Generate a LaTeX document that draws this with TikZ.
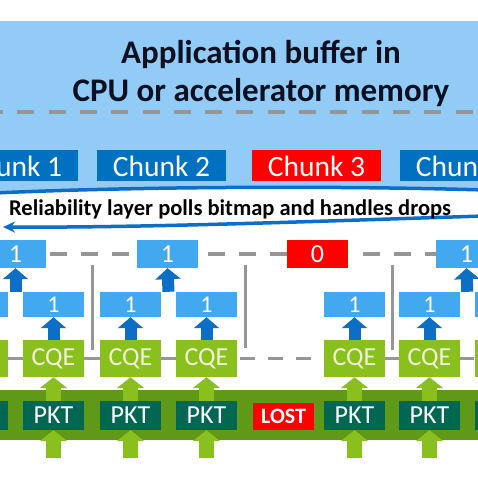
\documentclass[tikz,border=0pt]{standalone}
\usepackage{fontspec}
\setmainfont{Carlito}
\usetikzlibrary{arrows.meta,calc}

\definecolor{skyback}{RGB}{146,204,246}
\definecolor{chunkblue}{RGB}{0,112,192}
\definecolor{bitblue}{RGB}{66,168,240}
\definecolor{arrowblue}{RGB}{12,110,196}
\definecolor{lostred}{RGB}{255,0,0}
\definecolor{cqegreen}{RGB}{138,192,30}
\definecolor{cqetext}{RGB}{240,246,214}
\definecolor{bandgreen}{RGB}{96,152,24}
\definecolor{pktgreen}{RGB}{0,104,82}
\definecolor{rulegray}{RGB}{150,150,150}
\definecolor{titleink}{RGB}{8,16,34}

\tikzset{
  box/.style={draw=none,inner sep=0pt,minimum width=61pt,text=white},
  upblue/.style={arrowblue,line width=12pt,-{Triangle[width=25pt,length=11pt]}},
  upgreen/.style={cqegreen,line width=15pt,-{Triangle[width=27pt,length=11pt]}},
  rule/.style={rulegray,line width=3pt},
  sep/.style={rulegray,line width=4pt,dash pattern=on 17pt off 14.3pt},
}

\begin{document}
\begin{tikzpicture}[x=1pt,y=-1pt]

      \useasboundingbox (0,0) rectangle (478,478);
      \clip (0,0) rectangle (478,478);

      % application buffer area
      \fill[skyback] (0,21) rectangle (478,196);
      \fill[white] (-5,193) .. controls (150,186) and (350,186) .. (490,191)
        -- (490,480) -- (-5,480) -- cycle;

      \node[font=\fontsize{33}{38}\selectfont\bfseries,text=titleink,align=center]
        (title) at (261,73) {Application buffer in\\CPU or accelerator memory};
      \draw[sep,dash phase=14pt] (0,112) -- (478,112);

      \begin{scope}[every node/.style={box,minimum width=129pt,minimum height=31pt,
          font=\fontsize{29.5}{31}\selectfont}]
        \node[fill=chunkblue] (chunk1) at (13.5,166)  {Chunk 1};
        \node[fill=chunkblue] (chunk2) at (161.5,166) {Chunk 2};
        \node[fill=lostred]   (chunk3) at (316.5,166) {Chunk 3};
        \node[fill=chunkblue] (chunk4) at (464.5,166) {Chunk 4};
      \end{scope}

      % polling loop
      \draw[arrowblue,line width=3.5pt,-{Stealth[length=12pt,width=11pt]}]
        (-5,193) .. controls (150,186) and (350,186) .. (485,190)
        .. controls (500,192) and (500,214) .. (485,216)
        .. controls (350,220) and (150,228) .. (3,227);
      \node[font=\fontsize{22.5}{24}\selectfont\bfseries] (poll) at (230,209)
        {Reliability layer polls bitmap and handles drops};

      % completion band
      \fill[bandgreen] (0,390) rectangle (478,440);

      \begin{scope}[every node/.style={box,minimum height=28pt,font=\fontsize{26}{28}\selectfont}]
        \node[fill=bitblue] (map0) at (15.5,254)  {1};
        \node[fill=bitblue] (map1) at (167.5,254) {1};
        \node[fill=lostred] (map2) at (317.5,254) {0};
        \node[fill=bitblue] (map3) at (466.5,254) {1};
      \end{scope}

      \foreach \i/\x in {0/-22.5,1/53.5,2/130.5,3/206.5,5/354.5,6/429.5,7/505} {
        \node[box,fill=bitblue,minimum height=25pt,font=\fontsize{24}{26}\selectfont]
          (bit\i) at (\x,304.5) {1};
        \node[box,fill=cqegreen,text=cqetext,minimum height=37pt,font=\fontsize{26}{28}\selectfont]
          (cqe\i) at (\x,358.5) {CQE};
        \node[box,fill=pktgreen,minimum height=29pt,font=\fontsize{26}{28}\selectfont]
          (pkt\i) at (\x,415.5) {PKT};
        \coordinate (feed\i) at (\x,458);
      }
      \node[box,fill=lostred,minimum height=27pt,font=\fontsize{22}{24}\selectfont\bfseries]
        (lost) at (283.5,416.5) {LOST};

      % bitmap and queue lines
      \draw[sep,dash phase=28pt] (map0) -- (map1);
      \draw[sep,dash phase=22pt] (map1) -- (map2);
      \draw[sep,dash phase=17pt] (map2) -- (map3);
      \draw[rule] (cqe0) -- (cqe1) -- (cqe2) -- (cqe3);
      \draw[rule] (cqe5) -- (cqe6) -- (cqe7);
      \draw[rule,dash pattern=on 15pt off 13pt,dash phase=25pt] (cqe3) -- (cqe5);
      \draw[rule] (92,265) -- (92,350);
      \draw[rule] (245,265) -- (245,348);
      \draw[rule] (392,265) -- (392,350);

      % arrows
      \foreach \i in {0,1,2,3,5,6,7} {
        \draw[upgreen] (feed\i) -- (pkt\i.south);
        \draw[upgreen] (pkt\i.north) -- (cqe\i.south);
        \draw[upblue] (cqe\i.north) -- (bit\i.south);
      }
      \draw[upblue] ($(bit0.north)!0.5!(bit1.north)$) -- (map0.south);
      \draw[upblue] ($(bit2.north)!0.5!(bit3.north)$) -- (map1.south);
      \draw[upblue] ($(bit6.north)!0.5!(bit7.north)$) -- (map3.south);

    \end{tikzpicture}
\end{document}
